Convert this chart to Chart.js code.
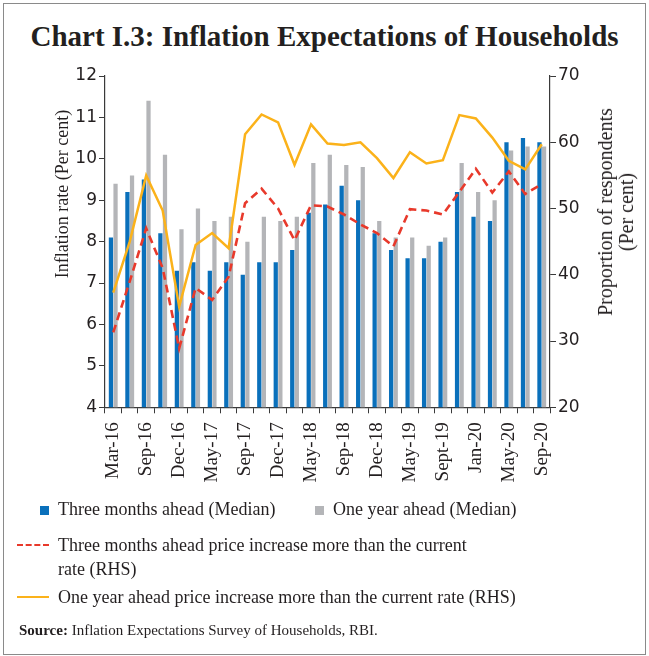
<!DOCTYPE html>
<html>
<head>
<meta charset="utf-8">
<script src="https://cdn.jsdelivr.net/npm/chart.js@4.4.1/dist/chart.umd.min.js"></script>
<style>
  body { margin: 0; width: 649px; height: 656px; background: #fff; position: relative; overflow: hidden; }
  .frame { position: absolute; left: 3px; top: 3px; width: 641px; height: 650px; border: 1px solid #8a8a8a; }
  .title { position: absolute; left: 0; width: 649px; top: 20px; text-align: center; font: bold 29px "Liberation Serif", serif; color: #231f20; }
  .serif { font-family: "Liberation Serif", serif; color: #231f20; }
  .abs { position: absolute; white-space: nowrap; }
  .ytitle { position: absolute; transform: translate(-50%, -50%) rotate(-90deg); text-align: center; line-height: 20px; }
  .leg { font-size: 18px; line-height: 24px; }
  .sq { position: absolute; width: 9px; height: 9px; }
  #wrap { position: absolute; left: 0; top: 55px; }
</style>
</head>
<body>
<div class="frame"></div>
<div class="title">Chart I.3: Inflation Expectations of Households</div>
<div id="wrap"><canvas id="ieChart" width="649" height="430"></canvas></div>
<div class="ytitle serif abs" style="left:62px; top:194px; font-size:18px;">Inflation rate (Per cent)</div>
<div class="ytitle serif abs" style="left:616px; top:212px; font-size:20px; line-height:21px;">Proportion of respondents<br>(Per cent)</div>

<div class="sq" style="left:40px; top:506px; background:#0a70bb;"></div>
<div class="abs serif leg" style="left:58px; top:497px;">Three months ahead (Median)</div>
<div class="sq" style="left:315px; top:506px; background:#b4b5b8;"></div>
<div class="abs serif leg" style="left:333px; top:497px;">One year ahead (Median)</div>

<div class="abs" style="left:17px; top:544px; width:32px; border-top:2.5px dashed #e8392b;"></div>
<div class="abs serif leg" style="left:58px; top:533px;">Three months ahead price increase more than the current<br>rate (RHS)</div>
<div class="abs" style="left:17px; top:596px; width:32px; border-top:2.5px solid #fbb21a;"></div>
<div class="abs serif leg" style="left:58px; top:585px;">One year ahead price increase more than the current rate (RHS)</div>

<div class="abs serif" style="left:19px; top:622px; font-size:15px;"><b>Source:</b> Inflation Expectations Survey of Households, RBI.</div>

<script>
// survey rounds, only every second one is labelled on the axis
const rounds = ['Mar-16', 'Jun-16', 'Sep-16', 'Nov-16', 'Dec-16', 'Mar-17', 'May-17', 'Jun-17', 'Sep-17',
    'Nov-17', 'Dec-17', 'Mar-18', 'May-18', 'Jun-18', 'Sep-18', 'Nov-18', 'Dec-18', 'Mar-19', 'May-19',
    'Jul-19', 'Sept-19', 'Nov-19', 'Jan-20', 'Mar-20', 'May-20', 'Jul-20', 'Sep-20'];

const threeMonthMedian = [8.1, 9.2, 9.5, 8.2, 7.3, 7.5, 7.3, 7.5, 7.2, 7.5, 7.5, 7.8, 8.7, 8.9,
    9.35, 9.0, 8.2, 7.8, 7.6, 7.6, 8.0, 9.2, 8.6, 8.5, 10.4, 10.5, 10.4];
const oneYearMedian = [9.4, 9.6, 11.4, 10.1, 8.3, 8.8, 8.5, 8.6, 8.0, 8.6, 8.5, 8.6, 9.9, 10.1,
    9.85, 9.8, 8.5, 8.1, 8.1, 7.9, 8.1, 9.9, 9.2, 9.0, 10.2, 10.3, 10.3];

const threeMonthMore = [31.3, 39.0, 47.0, 41.0, 28.9, 38.0, 36.2, 39.7, 50.8, 53.0, 50.0, 45.2, 50.5, 50.3,
    49.1, 47.6, 46.3, 44.3, 49.9, 49.7, 49.1, 52.5, 56.0, 52.4, 55.6, 52.2, 53.7];
const oneYearMore = [37.3, 45.0, 55.0, 49.7, 35.2, 44.5, 46.3, 44.0, 61.2, 64.2, 63.0, 56.6, 62.7, 59.8,
    59.6, 60.0, 57.6, 54.6, 58.5, 56.8, 57.3, 64.1, 63.6, 60.7, 57.2, 55.9, 59.7];

const axisColor = '#3a3a3a';
const tickFont = { family: 'DejaVu Sans', size: 17 };

const ctx = document.getElementById('ieChart').getContext('2d');
new Chart(ctx, {
    data: {
        labels: rounds,
        datasets: [
            {
                type: 'line',
                label: 'One year ahead price increase more than the current rate (RHS)',
                data: oneYearMore,
                yAxisID: 'yR',
                borderColor: '#fbb21a',
                borderWidth: 2.5,
                pointRadius: 0,
                tension: 0,
                order: 1,
            },
            {
                type: 'line',
                label: 'Three months ahead price increase more than the current rate (RHS)',
                data: threeMonthMore,
                yAxisID: 'yR',
                borderColor: '#e8392b',
                borderDash: [8, 5],
                borderWidth: 2.6,
                pointRadius: 0,
                tension: 0,
                order: 0,
            },
            {
                type: 'bar',
                label: 'Three months ahead (Median)',
                data: threeMonthMedian,
                yAxisID: 'yL',
                backgroundColor: '#0a70bb',
                categoryPercentage: 0.56,
                barPercentage: 0.92,
                order: 2,
            },
            {
                type: 'bar',
                label: 'One year ahead (Median)',
                data: oneYearMedian,
                yAxisID: 'yL',
                backgroundColor: '#b4b5b8',
                categoryPercentage: 0.56,
                barPercentage: 0.92,
                order: 2,
            },
        ],
    },
    options: {
        responsive: false,
        animation: false,
        devicePixelRatio: 1,
        layout: { padding: { top: 21, left: 0, right: 0, bottom: 0 } },
        plugins: {
            legend: { display: false },
            tooltip: { enabled: false },
        },
        scales: {
            x: {
                offset: true,
                grid: { offset: true, drawOnChartArea: false, tickLength: 6, color: axisColor },
                border: { color: axisColor, width: 1.2 },
                ticks: {
                    autoSkip: false,
                    minRotation: 90,
                    maxRotation: 90,
                    padding: 9,
                    color: '#231f20',
                    font: { family: 'Liberation Serif', size: 19 },
                    callback: (val, i) => (i % 2 === 0 ? rounds[i] : ''),
                },
                afterFit: (s) => { s.height = 77.7; },
            },
            yL: {
                position: 'left',
                min: 4,
                max: 12,
                grid: { drawOnChartArea: false, tickLength: 6, color: axisColor },
                border: { color: axisColor, width: 1.2 },
                ticks: { stepSize: 1, padding: 2, color: '#231f20', font: tickFont },
                afterFit: (s) => { s.width = 105; },
            },
            yR: {
                position: 'right',
                min: 20,
                max: 70,
                grid: { drawOnChartArea: false, tickLength: 6, color: axisColor },
                border: { color: axisColor, width: 1.2 },
                ticks: { stepSize: 10, padding: 2, color: '#231f20', font: tickFont },
                afterFit: (s) => { s.width = 99; },
            },
        },
    },
});
</script>
</body>
</html>
